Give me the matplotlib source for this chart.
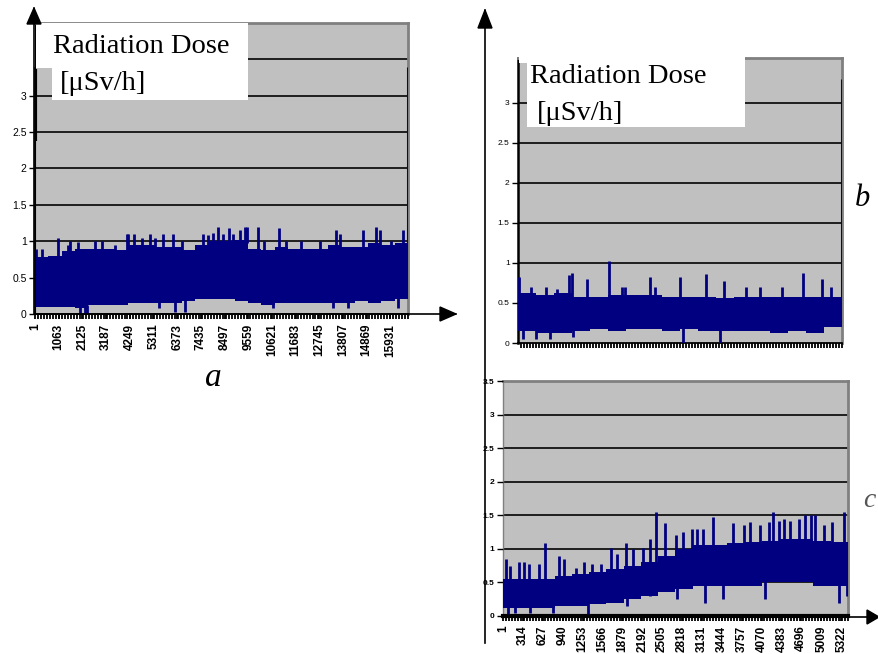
import matplotlib
matplotlib.use("Agg")
import matplotlib.pyplot as plt
import numpy as np
from matplotlib.patches import Polygon
from matplotlib.ticker import MultipleLocator

plt.rcParams["font.family"] = ["Liberation Sans", "DejaVu Sans"]

NAVY = "#000080"
PLOT_BG = "#c0c0c0"
FRAME = "#808080"
W, H = 879, 654

# Each trace is read off the picture as a dense "body" (lower/upper level per
# block of samples) plus the individual spikes that stick out of it.

# --- panel a ---
A_N = 16720
A_TICKS = [1, 1063, 2125, 3187, 4249, 5311, 6373, 7435, 8497, 9559,
           10621, 11683, 12745, 13807, 14869, 15931]
A_BODY_UP = [0.78, 0.80, 0.87, 0.90, 0.90, 0.90, 0.88, 0.95, 0.95, 0.92,
             0.92, 0.88, 0.95, 1.00, 1.00, 1.02, 0.90, 0.88, 0.92, 0.90,
             0.90, 0.90, 0.95, 0.92, 0.92, 0.97, 0.95, 0.98]
A_BODY_LO = [0.10, 0.10, 0.10, 0.08, 0.12, 0.12, 0.12, 0.15, 0.15, 0.15,
             0.15, 0.18, 0.20, 0.20, 0.20, 0.18, 0.15, 0.12, 0.15, 0.15,
             0.15, 0.15, 0.15, 0.15, 0.18, 0.15, 0.18, 0.20]
A_SPIKE_UP_AT = [46, 300, 1046, 1494, 1568, 1942, 2688, 2987, 3584, 4107,
                 4181, 4450, 4779, 5152, 5376, 5719, 6197, 6570, 7541, 7765,
                 7988, 8212, 8406, 8705, 8884, 9182, 9406, 9511, 10004, 10273,
                 10945, 11273, 11945, 12796, 13513, 13662, 14707, 15304, 15453,
                 15976, 16499]
A_SPIKE_UP = [0.90, 0.90, 1.05, 0.95, 1.00, 0.99, 1.00, 1.00, 0.95, 1.10,
              1.10, 1.10, 1.05, 1.10, 1.05, 1.10, 1.10, 1.00, 1.10, 1.08,
              1.12, 1.20, 1.10, 1.18, 1.10, 1.15, 1.20, 1.20, 1.20, 1.00,
              1.18, 1.00, 1.00, 1.00, 1.15, 1.10, 1.15, 1.20, 1.15,
              1.00, 1.15]
A_SPIKE_DN_AT = [2016, 2240, 2315, 5570, 6272, 6720, 10676, 13364, 14035, 16275]
A_SPIKE_DN = [0.00, 0.00, 0.02, 0.08, 0.03, 0.03, 0.08, 0.08, 0.08, 0.08]
A_FIRST_SPIKE = (2.38, 3.37)
A_LAST_SPIKE = 3.40

# --- panel b ---
B_N = 5400
B_BODY_UP = [0.62, 0.60, 0.62, 0.58, 0.58, 0.60, 0.60, 0.60, 0.58, 0.58,
             0.58, 0.56, 0.58, 0.58, 0.58, 0.58, 0.58, 0.58]
B_BODY_LO = [0.15, 0.12, 0.12, 0.15, 0.18, 0.15, 0.18, 0.18, 0.15, 0.18,
             0.15, 0.15, 0.15, 0.15, 0.12, 0.15, 0.12, 0.20]
B_SPIKE_UP_AT = [17, 222, 472, 650, 850, 905, 1150, 1517, 1739, 1778,
                 2206, 2278, 2695, 3128, 3428, 3806, 4039, 4406, 4750, 5072,
                 5222]
B_SPIKE_UP = [0.82, 0.70, 0.70, 0.68, 0.85, 0.87, 0.80, 1.02, 0.70, 0.70,
              0.82, 0.70, 0.83, 0.86, 0.78, 0.70, 0.70, 0.70, 0.87, 0.80,
              0.70]
B_SPIKE_DN_AT = [84, 306, 528, 917, 2751, 3362]
B_SPIKE_DN = [0.05, 0.05, 0.05, 0.08, 0.00, 0.00]
B_LAST_SPIKE = 3.30

# --- panel c ---
C_N = 5430
C_TICKS = [1, 314, 627, 940, 1253, 1566, 1879, 2192, 2505, 2818,
           3131, 3444, 3757, 4070, 4383, 4696, 5009, 5322]
C_BODY_UP = [0.55, 0.55, 0.55, 0.60, 0.62, 0.65, 0.70, 0.75, 0.80, 0.90,
             1.00, 1.05, 1.05, 1.08, 1.10, 1.12, 1.15, 1.15, 1.12, 1.10]
C_BODY_LO = [0.12, 0.12, 0.12, 0.15, 0.15, 0.18, 0.20, 0.25, 0.30, 0.35,
             0.40, 0.45, 0.45, 0.45, 0.45, 0.50, 0.50, 0.50, 0.45, 0.45]
C_SPIKE_UP_AT = [43, 106, 253, 327, 411, 563, 658, 884, 958, 1147,
                 1273, 1394, 1551, 1693, 1799, 1930, 2051, 2209, 2314, 2408,
                 2550, 2718, 2839, 2981, 3060, 3154, 3312, 3628, 3796, 3890,
                 4048, 4180, 4248, 4337, 4416, 4511, 4653, 4758, 4847, 4916,
                 5047, 5178, 5362]
C_SPIKE_UP = [0.85, 0.75, 0.80, 0.80, 0.78, 0.77, 1.08, 0.90, 0.85, 0.72,
              0.80, 0.78, 0.78, 1.02, 0.92, 1.08, 1.00, 1.02, 1.15, 1.55,
              1.38, 1.20, 1.25, 1.30, 1.30, 1.30, 1.48, 1.38, 1.35, 1.40,
              1.35, 1.40, 1.55, 1.42, 1.45, 1.42, 1.45, 1.50, 1.50, 1.50,
              1.35, 1.40, 1.55]
C_SPIKE_DN_AT = [80, 185, 421, 789, 1341, 1946, 2314, 2734, 3181, 3470,
                 4127, 5283, 5415]
C_SPIKE_DN = [0.03, 0.05, 0.05, 0.05, 0.03, 0.15, 0.30, 0.25, 0.20, 0.25,
              0.25, 0.20, 0.30]

Y_TICKS = [0, 0.5, 1, 1.5, 2, 2.5, 3]
Y_TICKS_C = [0, 0.5, 1, 1.5, 2, 2.5, 3, 3.5]


def px_axes(fig, left, top, right, bottom):
    return fig.add_axes([left / W, 1 - bottom / H, (right - left) / W, (bottom - top) / H])


def body_at(n, body, idx):
    edges = np.linspace(1, n, len(body) + 1)
    k = np.clip(np.searchsorted(edges, idx, side="right") - 1, 0, len(body) - 1)
    return np.asarray(body)[k]


def draw_trace(ax, n, body_up, body_lo, up_at, up, dn_at, dn):
    edges = np.linspace(1, n, len(body_up) + 1)
    ax.fill_between(edges, np.append(body_lo, body_lo[-1]),
                    np.append(body_up, body_up[-1]), step="post",
                    color=NAVY, lw=0, zorder=3)
    ax.vlines(up_at, body_at(n, body_up, up_at) - 0.05, up, color=NAVY,
              lw=2.0, zorder=3)
    ax.vlines(dn_at, dn, body_at(n, body_lo, dn_at) + 0.05, color=NAVY,
              lw=2.0, zorder=3)


def style_panel(ax, n, ymax, grid_levels, ytick_size, minor_step):
    ax.set_facecolor(PLOT_BG)
    ax.set_xlim(1, n)
    ax.set_ylim(0, ymax)
    for lev in grid_levels:
        ax.axhline(lev, color="#111111", lw=1.3, zorder=2)
    ax.xaxis.set_minor_locator(MultipleLocator(minor_step))
    ax.tick_params(axis="x", which="minor", length=3.5, width=1.3, direction="out")
    ax.tick_params(axis="x", which="major", length=3.5, width=1.3)
    ax.tick_params(axis="y", length=4, width=1, labelsize=ytick_size, pad=2)
    for side in ("top", "right"):
        ax.spines[side].set_color(FRAME)
        ax.spines[side].set_linewidth(2)
    ax.spines["bottom"].set_color("black")
    ax.spines["bottom"].set_linewidth(1.3)
    ax.spines["left"].set_color("black")
    ax.set_axisbelow(False)


fig = plt.figure(figsize=(W / 100, H / 100), dpi=100)

# panel a
ax_a = px_axes(fig, 35, 23, 408, 314)
style_panel(ax_a, A_N, 4.0, [0.5, 1, 1.5, 2, 2.5, 3, 3.5], 7.5, A_N / 125)
draw_trace(ax_a, A_N, A_BODY_UP, A_BODY_LO, A_SPIKE_UP_AT, A_SPIKE_UP,
           A_SPIKE_DN_AT, A_SPIKE_DN)
ax_a.vlines(A_N, A_BODY_UP[-1], A_LAST_SPIKE, color=NAVY, lw=2.2, zorder=3)
ax_a.vlines(1, A_FIRST_SPIKE[0], A_FIRST_SPIKE[1], color="black", lw=3, zorder=4)
ax_a.set_yticks(Y_TICKS)
ax_a.set_yticklabels([f"{v:g}" for v in Y_TICKS])
ax_a.set_xticks(A_TICKS)
ax_a.set_xticklabels([str(t) for t in A_TICKS], rotation=90, fontsize=8.5,
                     fontweight="bold")

# panel b
ax_b = px_axes(fig, 518, 58, 842, 343)
style_panel(ax_b, B_N, 3.56, [0.5, 1, 1.5, 2, 2.5, 3], 6, B_N / 108)
ax_b.spines["left"].set_linewidth(1.8)
draw_trace(ax_b, B_N, B_BODY_UP, B_BODY_LO, B_SPIKE_UP_AT, B_SPIKE_UP,
           B_SPIKE_DN_AT, B_SPIKE_DN)
ax_b.vlines(B_N, B_BODY_UP[-1], B_LAST_SPIKE, color=NAVY, lw=2.2, zorder=3)
ax_b.set_yticks(Y_TICKS)
ax_b.set_yticklabels([f"{v:g}" for v in Y_TICKS])
ax_b.set_xticks([])

# panel c
ax_c = px_axes(fig, 503, 381, 848, 616)
style_panel(ax_c, C_N, 3.5, [0.5, 1, 1.5, 2, 2.5, 3], 6, C_N / 115)
ax_c.spines["left"].set_color(FRAME)
ax_c.spines["left"].set_linewidth(1)
ax_c.spines["bottom"].set_linewidth(3)
draw_trace(ax_c, C_N, C_BODY_UP, C_BODY_LO, C_SPIKE_UP_AT, C_SPIKE_UP,
           C_SPIKE_DN_AT, C_SPIKE_DN)
ax_c.set_yticks(Y_TICKS_C)
ax_c.set_yticklabels([f"{v:g}" for v in Y_TICKS_C], fontweight="bold")
ax_c.set_xticks(C_TICKS)
ax_c.set_xticklabels([str(t) for t in C_TICKS], rotation=90, fontsize=8.5,
                     fontweight="bold")

# overlay in pixel coordinates: axis arrows, label boxes, panel letters
ov = fig.add_axes([0, 0, 1, 1], zorder=10)
ov.set_xlim(0, W)
ov.set_ylim(H, 0)
ov.axis("off")
ov.patch.set_alpha(0)

white_a = [(36, 23), (248, 23), (248, 100), (52, 100), (52, 68), (36, 68)]
white_b = [(519, 57), (745, 57), (745, 127), (527, 127), (527, 63), (519, 63)]
for poly in (white_a, white_b):
    ov.add_patch(Polygon(poly, closed=True, facecolor="white", edgecolor="none"))


def arrow(x0, y0, x1, y1, head=16, half=7):
    ov.plot([x0, x1], [y0, y1], color="black", lw=1.2)
    d = np.array([x1 - x0, y1 - y0], dtype=float)
    d /= np.hypot(*d)
    nrm = np.array([-d[1], d[0]])
    tip = np.array([x1, y1])
    base = tip - d * head
    ov.add_patch(Polygon([tip, base + nrm * half, base - nrm * half],
                         closed=True, facecolor="black", edgecolor="black"))


arrow(34, 314, 34, 8)
arrow(35, 314, 456, 314)
arrow(485, 643, 485, 10, head=18)
arrow(503, 617, 879, 617, head=12)
ov.plot([35, 35], [68, 314], color="black", lw=1.2)

serif = ["Liberation Serif", "DejaVu Serif"]
ov.text(53, 53, "Radiation Dose", family=serif, fontsize=20.5, va="baseline")
ov.text(60, 90, "[\u03bcSv/h]", family=serif, fontsize=20.5, va="baseline")
ov.text(530, 83, "Radiation Dose", family=serif, fontsize=20.5, va="baseline")
ov.text(537, 120, "[\u03bcSv/h]", family=serif, fontsize=20.5, va="baseline")

ov.text(213, 386, "a", family=serif, style="italic", fontsize=24,
        ha="center", va="baseline")
ov.text(862, 206, "b", family=serif, style="italic", fontsize=22,
        ha="center", va="baseline")
ov.text(869, 507, "c", family=serif, style="italic", fontsize=20,
        ha="center", va="baseline", color="#555555")

fig.savefig("out.png", dpi=100)
